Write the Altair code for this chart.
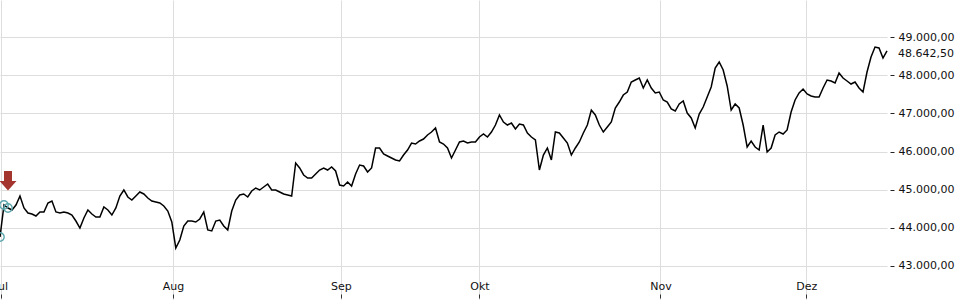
import altair as alt
import pandas as pd

# ---- data ----
month_labels = ["Jul", "Aug", "Sep", "Okt", "Nov", "Dez"]
month_pos = [0.25, 43.3, 85.3, 120.0, 165.3, 201.8]   # position of month start in the sample index
y_ticks = [43000, 44000, 45000, 46000, 47000, 48000, 49000]

prices = [
    43754, 44595, 44516, 44463, 44595, 44831, 44516, 44384, 44358, 44306,
    44411, 44411, 44647, 44700, 44411, 44384, 44411, 44384, 44332, 44174,
    43990, 44253, 44463, 44358, 44279, 44279, 44542, 44463, 44332, 44516,
    44831, 44989, 44805, 44726, 44831, 44936, 44884, 44779, 44700, 44673,
    44647, 44568, 44437, 44148, 43465, 43675, 44043, 44174, 44174, 44148,
    44227, 44411, 43938, 43912, 44174, 44201, 44043, 43938, 44437, 44726,
    44857, 44884, 44805, 44962, 45041, 44989, 45068, 45146, 44989, 44989,
    44936, 44884, 44857, 44831, 45698, 45567, 45383, 45304, 45304, 45409,
    45514, 45567, 45514, 45593, 45488, 45120, 45094, 45199, 45094, 45409,
    45645, 45619, 45462, 45567, 46092, 46092, 45934, 45882, 45829, 45777,
    45751, 45908, 46039, 46223, 46197, 46276, 46328, 46434, 46512, 46617,
    46250, 46197, 46092, 45829, 46039, 46250, 46276, 46223, 46250, 46250,
    46381, 46460, 46381, 46512, 46696, 46959, 46775, 46696, 46749, 46591,
    46723, 46696, 46486, 46381, 46302, 45514, 45908, 46092, 45777, 46512,
    46486, 46355, 46223, 45908, 46092, 46250, 46486, 46696, 47090, 46959,
    46696, 46512, 46644, 46775, 47143, 47300, 47484, 47563, 47826, 47878,
    47931, 47668, 47878, 47668, 47537, 47563, 47353, 47300, 47117, 47064,
    47248, 47327, 47011, 46880, 46617, 46985, 47169, 47432, 47695, 48194,
    48351, 48141, 47721, 47090, 47248, 47143, 46696, 46118, 46276, 46118,
    46039, 46696, 45987, 46092, 46434, 46512, 46460, 46565, 47038, 47353,
    47537, 47642, 47511, 47458, 47432, 47432, 47668, 47878, 47852, 47800,
    48062, 47931, 47852, 47773, 47826, 47668, 47563, 48089, 48483, 48745,
    48719, 48456, 48642.5,
]
last_label = "48.642,50"
signal_idx = [0, 1, 2]   # points marked with open circles
arrow_idx = [2]          # point marked with the red arrow

# ---- tables ----
df = pd.DataFrame({"t": list(range(len(prices))), "price": prices})
sig = df.iloc[signal_idx]
arr = df.iloc[arrow_idx]
last = df.iloc[[-1]].assign(label=last_label)

W, H = 887, 300
FONT = "DejaVu Sans"

xs = alt.Scale(domain=[0, len(prices) - 1], nice=False, zero=False)
ys = alt.Scale(domain=[42099, 49980], nice=False, zero=False)

x_label_expr = ""
for p, lab in zip(month_pos, month_labels):
    x_label_expr += f"datum.value == {p} ? '{lab}' : "
x_label_expr += "''"

y_label_expr = ("replace(replace(replace(format(datum.value, ',.2f'), ',', '#'), '.', ','), '#', '.')")

x_axis = alt.Axis(
    orient="top", offset=-(H - 2), values=month_pos, labelExpr=x_label_expr,
    grid=True, gridColor="#dddddd", gridWidth=1, domain=False,
    tickSize=4, tickColor="#333333", labelPadding=3, labelFont=FONT,
    labelFontSize=11, labelColor="#111111", title=None, labelFlush=False,
    labelOverlap=False, labelBound=False, labelAngle=0,
)
y_axis = alt.Axis(
    orient="right", offset=3, values=y_ticks, labelExpr=y_label_expr,
    grid=True, gridColor="#dddddd", gridWidth=1, domain=False,
    tickSize=4, tickColor="#222222", labelPadding=4, labelFont=FONT,
    labelFontSize=11, labelColor="#111111", title=None, labelFlush=False,
    labelOverlap=False, labelBound=False,
)

line = alt.Chart(df).mark_line(color="black", strokeWidth=1.5).encode(
    x=alt.X("t:Q", scale=xs, axis=x_axis),
    y=alt.Y("price:Q", scale=ys, axis=y_axis),
)

circles = alt.Chart(sig).mark_point(
    shape="circle", filled=False, size=70, color="#5ba6ac", strokeWidth=1.4, opacity=1
).encode(
    x=alt.X("t:Q", scale=xs),
    y=alt.Y("price:Q", scale=ys),
)

arrow_path = "M-0.8,-7.4 L0.8,-7.4 L0.8,-5.4 L1.7,-5.4 L0,-3.5 L-1.7,-5.4 L-0.8,-5.4 Z"
arrow = alt.Chart(arr).mark_point(
    shape=arrow_path, filled=True, size=100, color="#a3352e", opacity=1, strokeWidth=0
).encode(
    x=alt.X("t:Q", scale=xs),
    y=alt.Y("price:Q", scale=ys),
)

last_text = alt.Chart(last).mark_text(
    align="left", baseline="middle", dy=3, font=FONT, fontSize=11, color="#111111"
).encode(
    x=alt.value(898),
    y=alt.Y("price:Q", scale=ys),
    text="label:N",
)

chart = alt.layer(line, circles, arrow, last_text).properties(
    width=W, height=H,
    autosize=alt.AutoSizeParams(type="none"),
    padding={"left": 0, "top": 0, "right": 73, "bottom": 0},
).configure_view(stroke=None)

chart.save("out.html", embed_options={"renderer": "svg", "actions": False})
